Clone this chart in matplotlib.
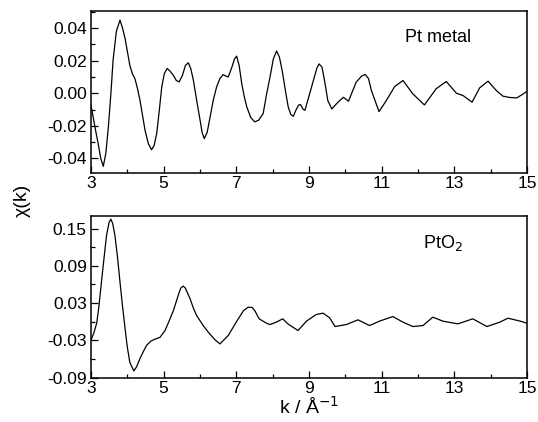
import matplotlib
matplotlib.use("Agg")
import matplotlib.pyplot as plt
from matplotlib.ticker import MultipleLocator, FixedLocator

plt.rcParams['font.family'] = ['Liberation Sans', 'DejaVu Sans']

# Pt metal chi(k)
k_pt = [3.0, 3.11, 3.2, 3.27, 3.34, 3.41, 3.48, 3.55, 3.61, 3.7, 3.8, 3.87, 3.94, 4.07, 4.14, 4.21,
        4.28, 4.35, 4.49, 4.58, 4.67, 4.74, 4.81, 4.88, 4.95, 5.02, 5.1, 5.18, 5.27, 5.35, 5.43, 5.52,
        5.6, 5.68, 5.75, 5.82, 5.9, 6.0, 6.06, 6.12, 6.2, 6.28, 6.37, 6.46, 6.55, 6.64, 6.71, 6.78,
        6.88, 6.95, 7.01, 7.08, 7.15, 7.22, 7.29, 7.4, 7.51, 7.62, 7.74, 7.84, 7.93, 8.02, 8.11, 8.19,
        8.27, 8.35, 8.43, 8.5, 8.57, 8.65, 8.72, 8.77, 8.84, 8.89, 9.02, 9.15,
        9.22, 9.28, 9.36, 9.43, 9.52, 9.63, 9.8, 9.95, 10.09, 10.3, 10.45, 10.55, 10.64, 10.72, 10.93,
        11.13, 11.36, 11.59, 11.86, 12.18, 12.5, 12.78, 13.06, 13.24, 13.49, 13.7, 13.93, 14.16, 14.34,
        14.52, 14.72, 14.9, 15.0]
chi_pt = [-0.007, -0.0207, -0.031, -0.040, -0.0449, -0.037, -0.0207, 0.0, 0.0203, 0.038, 0.0449, 0.040,
          0.0336, 0.0172, 0.012, 0.009, 0.003, -0.0043, -0.0228, -0.031, -0.0347, -0.032, -0.0248, -0.011,
          0.0039, 0.012, 0.0152, 0.0135, 0.011, 0.0078, 0.007, 0.011, 0.017, 0.0187, 0.015, 0.008, -0.003,
          -0.016, -0.024, -0.0279, -0.024, -0.0146, -0.004, 0.0039, 0.009, 0.0115, 0.0105, 0.010,
          0.016, 0.021, 0.0228, 0.017, 0.006, -0.002, -0.0084, -0.015, -0.0176, -0.0165, -0.0125, 0.0,
          0.010, 0.021, 0.026, 0.022, 0.0131, 0.002, -0.0084, -0.013, -0.0142, -0.010, -0.0072, -0.007,
          -0.0098, -0.0105, -0.0004, 0.01,
          0.0155, 0.018, 0.016, 0.0078, -0.0045, -0.0096, -0.0055, -0.0025, -0.0049, 0.0068, 0.0105,
          0.0115, 0.009, 0.0016, -0.0113, -0.0045, 0.0041, 0.0078, -0.0004, -0.0072, 0.0027, 0.0072,
          0.0, -0.0014, -0.0055, 0.0033, 0.0074, 0.0016, -0.0018, -0.0026, -0.0029, -0.0004, 0.0012]

# PtO2 chi(k)
k_pto = [3.0, 3.08, 3.16, 3.22, 3.29, 3.36, 3.43, 3.5, 3.55, 3.6, 3.66, 3.73, 3.8, 3.87, 3.94, 4.0,
         4.07, 4.18, 4.26, 4.35, 4.45, 4.53, 4.65, 4.76, 4.9, 5.04, 5.15, 5.27, 5.4, 5.47, 5.54, 5.6,
         5.73, 5.82, 5.91, 6.09, 6.23, 6.4, 6.55, 6.78, 7.01, 7.2, 7.33,
         7.44, 7.51, 7.63, 7.83, 7.93, 8.1, 8.28, 8.42, 8.7, 8.93, 9.2, 9.39, 9.57, 9.72, 10.03, 10.35,
         10.67, 10.94, 11.31, 11.59, 11.86, 12.14, 12.41, 12.69, 13.1, 13.51, 13.9, 14.25, 14.48, 14.82,
         15.0]
chi_pto = [-0.03, -0.018, -0.002, 0.025, 0.064, 0.102, 0.139, 0.160, 0.165, 0.158, 0.139, 0.105, 0.064,
           0.025, -0.011, -0.040, -0.065, -0.079, -0.072, -0.059, -0.047, -0.038, -0.031, -0.028, -0.025,
           -0.014, 0.001, 0.018, 0.042, 0.054, 0.0575, 0.054, 0.037, 0.022, 0.010, -0.006, -0.0166,
           -0.028, -0.0355, -0.022, 0.0006, 0.018, 0.0236,
           0.023, 0.018, 0.0048, -0.0022, -0.0044,
           -0.0006, 0.0048, -0.0033, -0.014, 0.001, 0.0117, 0.0139, 0.0064, -0.0076, -0.0044, 0.0032,
           -0.006, 0.001, 0.0085, -0.0006, -0.0076, -0.006, 0.0075, 0.001, -0.0033, 0.0048, -0.0076,
           -0.0006, 0.0058, 0.001, -0.0022]

fig = plt.figure(figsize=(5.38, 4.22), dpi=100)
ax1 = fig.add_axes([0.169, 0.590, 0.8104, 0.384])
ax2 = fig.add_axes([0.169, 0.104, 0.8104, 0.384])

ax1.plot(k_pt, chi_pt, color='black', lw=0.9)
ax2.plot(k_pto, chi_pto, color='black', lw=0.9)

for ax in (ax1, ax2):
    ax.set_xlim(3, 15)
    ax.xaxis.set_major_locator(FixedLocator([3, 5, 7, 9, 11, 13, 15]))
    ax.xaxis.set_minor_locator(FixedLocator([4, 6, 8, 10, 12, 14]))
    ax.tick_params(which='both', direction='in', labelsize=12.5, pad=3)
    ax.tick_params(axis='x', pad=2)
    ax.tick_params(which='major', length=5, width=0.9)
    ax.tick_params(which='minor', length=3, width=0.9)
    for s in ax.spines.values():
        s.set_linewidth(1.1)

ax1.set_ylim(-0.049, 0.0505)
ax1.yaxis.set_major_locator(FixedLocator([-0.04, -0.02, 0.0, 0.02, 0.04]))
ax1.yaxis.set_minor_locator(MultipleLocator(0.01))
ax1.set_yticklabels(['-0.04', '-0.02', '0.00', '0.02', '0.04'])

ax2.set_ylim(-0.0905, 0.17)
ax2.yaxis.set_major_locator(FixedLocator([-0.09, -0.03, 0.03, 0.09, 0.15]))
ax2.yaxis.set_minor_locator(FixedLocator([-0.06, 0.0, 0.06, 0.12]))
ax2.set_yticklabels(['-0.09', '-0.03', '0.03', '0.09', '0.15'])

ax1.text(12.55, 0.034, 'Pt metal', fontsize=13, ha='center', va='center')
ax2.text(12.14, 0.126, 'PtO$_2$', fontsize=13, ha='left', va='center')

fig.text(0.041, 0.526, 'χ(k)', rotation=90, fontsize=14, ha='center', va='center')
ax2.set_xlabel('k / Å$^{-1}$', fontsize=14, labelpad=0)

fig.savefig('out.png', dpi=100)
